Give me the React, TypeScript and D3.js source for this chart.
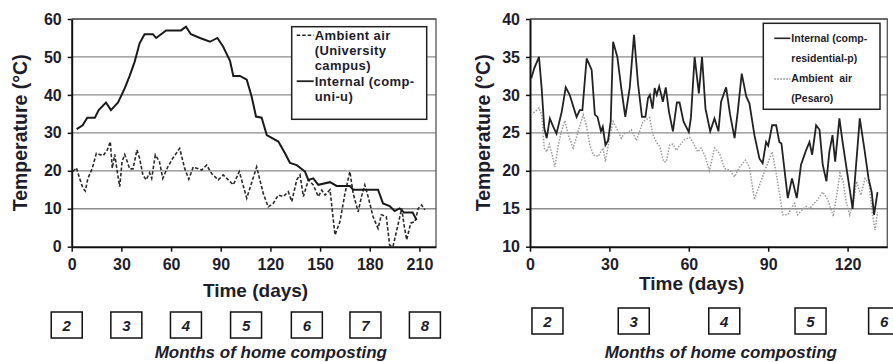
import { useEffect, useRef } from 'react';
import * as d3 from 'd3';

// left panel: university campus (comp-uni-u), [day, °C]
const uniInternal: [number, number][] = [
  [3, 31], [6.6, 32], [9.4, 34], [14, 34], [16.3, 36], [20.7, 38], [23.7, 36], [28, 38],
  [32, 41.7], [35, 45], [38, 48.7], [41, 53.6], [44, 56], [49, 56], [51, 55], [57, 57],
  [66, 57], [69, 58], [72, 56], [77.5, 55], [83.5, 54], [88, 55], [91.5, 52.7], [95.6, 49],
  [97.6, 45], [101.6, 45], [105.7, 44], [108.7, 39.5], [111.3, 34.3], [114.7, 34], [117.8, 29.4],
  [124.8, 27.7], [128.8, 24.6], [131.8, 22.1], [135.9, 21.5], [140.9, 19.8], [142.9, 17.6],
  [145.9, 18], [148.9, 16.3], [156, 17], [160, 16], [168, 16], [170, 15], [185, 15],
  [188, 11.4], [192, 10.7], [195, 9.4], [198, 10.1], [200.7, 9], [205.9, 9], [208.3, 7],
];

const uniAmbient: [number, number][] = [
  [0.8, 19.8], [2.8, 20.8], [4.8, 18], [6.8, 15.4], [8.2, 14.7], [9.8, 18], [12.3, 20.5],
  [14.9, 24.6], [16.9, 24.3], [19, 24], [21.5, 25.5], [23.3, 27.7], [24.5, 20.7], [26, 24.3],
  [27.5, 19.8], [29, 15.8], [30.4, 22.4], [32, 24.3], [33.6, 22.4], [35, 20.5], [37, 20.5],
  [39.4, 25.5], [41, 23.3], [43, 18.9], [45, 17.6], [47, 19.5], [48.3, 18], [50.5, 24.2],
  [53, 22.4], [55, 18], [58, 21], [61, 23.3], [65.2, 25.9], [68.2, 20.7], [70.7, 17.8],
  [73.4, 21], [78.5, 20.2], [81.5, 21.5], [84.5, 19.3], [88.5, 17.6], [91.5, 18.9],
  [94.6, 17.6], [97.6, 16.3], [101.2, 19.8], [105.7, 12.8], [111.7, 21], [115.7, 14],
  [118.7, 10.5], [121.7, 11.4], [124.8, 13.6], [127.8, 13.2], [130.8, 14.5], [132.9, 11.9],
  [135.9, 17.6], [137.9, 18.9], [139.9, 13.2], [142.9, 17.6], [145.9, 16.3], [148.9, 13.2],
  [151, 14.9], [153, 13.6], [156, 15], [159, 3.1], [162, 6.6], [165, 14], [168, 19.8],
  [170, 14], [173, 9.2], [175, 13.2], [177, 16.3], [179, 13.2], [182, 7.9], [185, 4.8],
  [187, 8.4], [190, 7.9], [192, 0.4], [194, 0], [197, 5.7], [199.3, 10.1], [200.7, 5.7],
  [202.3, 1.8], [204.7, 6.2], [207.3, 6.6], [209.3, 10.1], [211.3, 11], [213.3, 9.7],
];

// right panel: residential site Pesaro (comp-residential-p)
const resInternal: [number, number][] = [
  [0.5, 32.2], [1.6, 33.5], [3.4, 35], [4.4, 30.9], [5.4, 25.6], [6.3, 24.3], [7.5, 26.9],
  [8.8, 25.8], [10, 24.9], [12, 27.8], [13.5, 31], [15, 30], [17.6, 27.1], [18.8, 28],
  [19.8, 28], [21.4, 34.8], [23.3, 33.3], [24.5, 27.4], [25.5, 27.1], [26.8, 25.2],
  [27.5, 25.8], [28.5, 23.4], [29.5, 24], [30.5, 26.5], [31.4, 37], [33, 35], [34.6, 30.6],
  [36, 27.1], [37.7, 31], [39.3, 37.9], [40.8, 31.5], [42.3, 27.1], [43.6, 27.1],
  [44.6, 29.6], [45.3, 30], [46.3, 28.2], [47.1, 30.9], [47.9, 30], [48.8, 31.1],
  [49.6, 30], [50.2, 29.1], [51.3, 31], [52.5, 27.8], [54, 25.2], [55.5, 29], [56.5, 29],
  [58, 26.5], [60, 25.1], [60.8, 27], [62.2, 35], [63.8, 30.2], [65, 35], [66.3, 28.2],
  [68.1, 25.2], [69.7, 26.9], [71.2, 25.2], [72.2, 29.1], [74.1, 31], [75.6, 27.4],
  [77.3, 24.3], [78.5, 27.8], [80, 32.8], [81.7, 29.8], [82.9, 28.9], [84.8, 24.7],
  [86.7, 21.6], [87.9, 21], [89.2, 23.8], [90, 23.3], [91.5, 26], [93, 26], [94.2, 23.8],
  [95, 23.6], [97.4, 16.4], [99, 19], [100.8, 16.4], [102.4, 20.8], [103.7, 22.1],
  [104.3, 22.7], [105.6, 23.8], [106.6, 22.1], [108.1, 26], [109.4, 25.4], [110.6, 20.8],
  [112, 18.6], [113.1, 22.5], [114.3, 24.7], [115.3, 21.2], [116.9, 26.9], [118.1, 23.8],
  [120, 19.4], [121.9, 15], [123.1, 20.3], [124.6, 26.9], [126.3, 23], [127.9, 19],
  [129.1, 17.2], [130, 14.2], [131.3, 17.2],
];

const resAmbient: [number, number][] = [
  [0.4, 27.4], [1.9, 27.8], [3.4, 28.3], [4.4, 27.4], [5.4, 23], [6.3, 22.5], [7.3, 23.5],
  [8.4, 22.1], [9.4, 20.5], [10.7, 23.4], [12, 25.4], [13.2, 26.6], [14.5, 24.7], [16.3, 23],
  [18.2, 25.2], [20.1, 27.4], [21.3, 26], [22.6, 23.4], [23.9, 22.1], [25.8, 21.9],
  [27.6, 23], [28.5, 21.2], [30.2, 24.7], [31.4, 26.5], [33, 25.4], [34.5, 24.3],
  [35.8, 25], [37, 25], [38.3, 25.4], [40.2, 24], [41.4, 25.2], [42.7, 26.5], [44.6, 26.9],
  [45.2, 27], [46.5, 24.7], [47.7, 23.8], [49, 23.2], [50.5, 21.2], [51.5, 21.2],
  [52.8, 23.4], [54, 23.5], [55.3, 22.7], [56.6, 23.4], [58.4, 24.1], [60.3, 24.4],
  [61.5, 23.8], [63.4, 22.5], [64.6, 23], [66, 22.1], [67.8, 20], [69.7, 23], [71.6, 22.3],
  [73.5, 20.3], [75.4, 20.1], [77.3, 19.2], [79.2, 20.5], [81.4, 21.4], [82.9, 20.5],
  [84.8, 16.2], [86.7, 18.1], [88.6, 19.9], [90.5, 21.6], [91.5, 22.5], [92.7, 20.3],
  [94.2, 17.2], [95.5, 14.2], [97.4, 14.2], [98.6, 15], [99.9, 15.7], [101.1, 14.2],
  [102.7, 14.8], [104.3, 15.3], [105.6, 15], [106.8, 15.5], [108.7, 16.2], [110.6, 17.2],
  [112.5, 16.2], [114.6, 14], [115.8, 16.6], [117.1, 19.7], [118.3, 18.6], [119.5, 15.9],
  [120.8, 14.2], [122.4, 16.2], [123.4, 18.6], [125, 16.8], [126.6, 19], [128.1, 18.3],
  [129.4, 14.2], [130.4, 12.2], [131.3, 14.6],
];

const leftXTicks = [0, 30, 60, 90, 120, 150, 180, 210];
const leftYTicks = [0, 10, 20, 30, 40, 50, 60];
const rightXTicks = [0, 30, 60, 90, 120];
const rightYTicks = [10, 15, 20, 25, 30, 35, 40];

// month boxes below each panel, positioned in days
const leftMonths = [2, 3, 4, 5, 6, 7, 8];
const leftMonthDays = [-3, 33, 69, 105.3, 142, 177.4, 213.3];
const rightMonths = [2, 3, 4, 5, 6];
const rightMonthDays = [6.6, 39.2, 73.4, 106, 133.8];

const leftLegend = ['Ambient air', '(University', 'campus)', 'Internal (comp-', 'uni-u)'];
const rightLegend = ['Internal (comp-', 'residential-p)', 'Ambient  air', '(Pesaro)'];

const FONT = '"Liberation Sans", Arial, sans-serif';
const INK = '#1d1d2b';

export default function App() {
  const svgRef = useRef<SVGSVGElement>(null);

  useEffect(() => {
    if (!svgRef.current) return;
    const svg = d3.select(svgRef.current);
    svg.selectAll('*').remove();

    const panel = (opts: {
      x: d3.ScaleLinear<number, number>;
      y: d3.ScaleLinear<number, number>;
      xTicks: number[];
      yTicks: number[];
      yTitleX: number;
      xTitleY: number;
    }) => {
      const { x, y, xTicks, yTicks } = opts;
      const [x0, x1] = x.range();
      const [y0, y1] = y.range();
      const g = svg.append('g');

      // gridlines
      g.selectAll('line.grid')
        .data(yTicks.slice(1))
        .join('line')
        .attr('x1', x0)
        .attr('x2', x1)
        .attr('y1', (d) => y(d))
        .attr('y2', (d) => y(d))
        .attr('stroke', '#8c8c8c')
        .attr('stroke-width', 1.3);

      // frame top/right
      g.append('path')
        .attr('d', `M${x0},${y1}H${x1}V${y0}`)
        .attr('fill', 'none')
        .attr('stroke', '#555')
        .attr('stroke-width', 1.3);

      const ax = g
        .append('g')
        .attr('transform', `translate(${x0},0)`)
        .call(d3.axisLeft(y).tickValues(yTicks).tickSize(4).tickSizeOuter(0).tickPadding(6));
      const bx = g
        .append('g')
        .attr('transform', `translate(0,${y0})`)
        .call(d3.axisBottom(x).tickValues(xTicks).tickSize(5).tickSizeOuter(0).tickPadding(7));

      [ax, bx].forEach((a) => {
        a.select('.domain').attr('stroke', '#111').attr('stroke-width', 2);
        a.selectAll('.tick line').attr('stroke', '#111').attr('stroke-width', 1.5);
        a.selectAll('text')
          .attr('fill', INK)
          .style('font-family', FONT)
          .style('font-weight', 'bold')
          .style('font-size', '16px');
      });

      g.append('text')
        .attr('transform', `translate(${opts.yTitleX},${(y0 + y1) / 2}) rotate(-90)`)
        .attr('text-anchor', 'middle')
        .attr('dy', '0.35em')
        .attr('fill', INK)
        .style('font-family', FONT)
        .style('font-weight', 'bold')
        .style('font-size', '19.5px')
        .text('Temperature (°C)');

      return g;
    };

    // ---------- left panel ----------
    const xL = d3.scaleLinear().domain([0, 220]).range([71.7, 436]);
    const yL = d3.scaleLinear().domain([0, 60]).range([246.7, 19]);
    const gL = panel({ x: xL, y: yL, xTicks: leftXTicks, yTicks: leftYTicks, yTitleX: 20, xTitleY: 297 });

    const lineL = d3.line<[number, number]>().x((d) => xL(d[0])).y((d) => yL(d[1]));
    gL.append('path')
      .datum(uniAmbient)
      .attr('fill', 'none')
      .attr('stroke', '#2a2a2a')
      .attr('stroke-width', 1.6)
      .attr('stroke-dasharray', '3.5,2')
      .attr('d', lineL);
    gL.append('path')
      .datum(uniInternal)
      .attr('fill', 'none')
      .attr('stroke', '#1a1a1a')
      .attr('stroke-width', 2)
      .attr('d', lineL);

    gL.append('text')
      .attr('x', (xL(0) + xL(210)) / 2 + 10)
      .attr('y', 297)
      .attr('text-anchor', 'middle')
      .attr('fill', INK)
      .style('font-family', FONT)
      .style('font-weight', 'bold')
      .style('font-size', '19px')
      .text('Time (days)');

    // left legend
    const legL = gL.append('g').attr('transform', 'translate(291.7,26.7)');
    legL.append('rect')
      .attr('width', 135)
      .attr('height', 92.6)
      .attr('fill', 'white')
      .attr('stroke', '#222')
      .attr('stroke-width', 1.5);
    legL.append('line')
      .attr('x1', 5).attr('x2', 22).attr('y1', 8.5).attr('y2', 8.5)
      .attr('stroke', '#222').attr('stroke-width', 1.5).attr('stroke-dasharray', '3.5,2');
    legL.append('line')
      .attr('x1', 5).attr('x2', 22).attr('y1', 54.5).attr('y2', 54.5)
      .attr('stroke', '#222').attr('stroke-width', 1.8);
    legL.selectAll('text')
      .data(leftLegend)
      .join('text')
      .attr('x', 23)
      .attr('y', (_, i) => 13 + i * 15.3)
      .attr('fill', INK)
      .style('font-family', FONT)
      .style('font-weight', 'bold')
      .style('font-size', '13px')
      .style('letter-spacing', '0.4px')
      .text((d) => d);

    // ---------- right panel ----------
    const xR = d3.scaleLinear().domain([0, 135]).range([530, 887.3]);
    const yR = d3.scaleLinear().domain([10, 40]).range([246.7, 19]);
    const gR = panel({ x: xR, y: yR, xTicks: rightXTicks, yTicks: rightYTicks, yTitleX: 483, xTitleY: 290 });

    const lineR = d3.line<[number, number]>().x((d) => xR(d[0])).y((d) => yR(d[1]));
    gR.append('path')
      .datum(resAmbient)
      .attr('fill', 'none')
      .attr('stroke', '#9a9a9a')
      .attr('stroke-width', 1.5)
      .attr('stroke-dasharray', '1.5,1.5')
      .attr('d', lineR);
    gR.append('path')
      .datum(resInternal)
      .attr('fill', 'none')
      .attr('stroke', '#222')
      .attr('stroke-width', 1.8)
      .attr('d', lineR);

    gR.append('text')
      .attr('x', 691.7)
      .attr('y', 290)
      .attr('text-anchor', 'middle')
      .attr('fill', INK)
      .style('font-family', FONT)
      .style('font-weight', 'bold')
      .style('font-size', '19px')
      .text('Time (days)');

    const legR = gR.append('g').attr('transform', 'translate(763.3,23.3)');
    legR.append('rect')
      .attr('width', 116.7)
      .attr('height', 86)
      .attr('fill', 'white')
      .attr('stroke', '#222')
      .attr('stroke-width', 1.5);
    legR.append('line')
      .attr('x1', 11).attr('x2', 27).attr('y1', 15).attr('y2', 15)
      .attr('stroke', '#222').attr('stroke-width', 1.6);
    legR.append('line')
      .attr('x1', 11).attr('x2', 27).attr('y1', 55.7).attr('y2', 55.7)
      .attr('stroke', '#888').attr('stroke-width', 1.5).attr('stroke-dasharray', '1.5,1.5');
    legR.selectAll('text')
      .data(rightLegend)
      .join('text')
      .attr('x', 28)
      .attr('y', (_, i) => 18.5 + i * 20.2)
      .attr('fill', INK)
      .style('font-family', FONT)
      .style('font-weight', 'bold')
      .style('font-size', '10.5px')
      .style('white-space', 'pre')
      .text((d) => d);

    // ---------- month boxes ----------
    const monthRow = (days: number[], labels: number[], x: d3.ScaleLinear<number, number>, top: number) => {
      const mg = svg.append('g');
      const cell = mg
        .selectAll('g')
        .data(labels)
        .join('g')
        .attr('transform', (_, i) => `translate(${x(days[i]) - 15.5},${top})`);
      cell.append('rect')
        .attr('width', 31)
        .attr('height', 26)
        .attr('fill', 'white')
        .attr('stroke', '#111')
        .attr('stroke-width', 1.5);
      cell.append('text')
        .attr('x', 15.5)
        .attr('y', 18.5)
        .attr('text-anchor', 'middle')
        .attr('fill', INK)
        .style('font-family', FONT)
        .style('font-weight', 'bold')
        .style('font-style', 'italic')
        .style('font-size', '15px')
        .text((d) => d);
    };
    monthRow(leftMonthDays, leftMonths, xL, 312);
    monthRow(rightMonthDays, rightMonths, xR, 308);

    [270.8, 720.8].forEach((cx) => {
      svg.append('text')
        .attr('x', cx)
        .attr('y', 357.5)
        .attr('text-anchor', 'middle')
        .attr('fill', INK)
        .style('font-family', FONT)
        .style('font-weight', 'bold')
        .style('font-style', 'italic')
        .style('font-size', '17px')
        .text('Months of home composting');
    });
  }, []);

  return (
    <div style={{ position: 'absolute', left: 0, top: 0, width: 893, height: 362, background: 'white' }}>
      <svg ref={svgRef} width={893} height={362} style={{ display: 'block' }} />
    </div>
  );
}
